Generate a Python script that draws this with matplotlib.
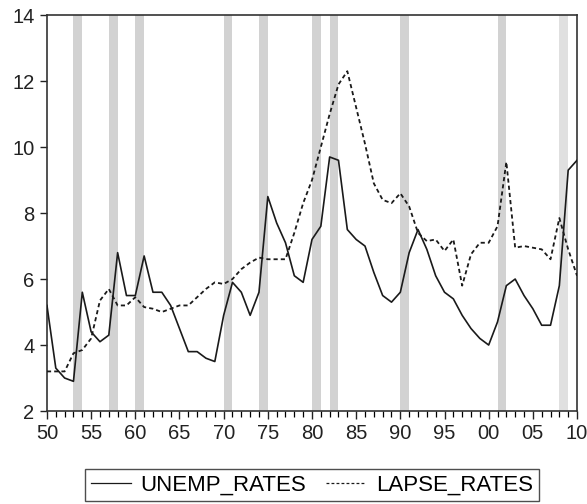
import numpy as np
import matplotlib
matplotlib.use('Agg')
import matplotlib.pyplot as plt
from matplotlib.ticker import MultipleLocator, FuncFormatter

plt.rcParams['font.family'] = ['Liberation Sans', 'DejaVu Sans']

years = np.arange(1950, 2011)

unemp_rates = [5.2, 3.3, 3.0, 2.9, 5.6, 4.4, 4.1, 4.3, 6.8, 5.5,
               5.5, 6.7, 5.6, 5.6, 5.2, 4.5, 3.8, 3.8, 3.6, 3.5,
               4.9, 5.9, 5.6, 4.9, 5.6, 8.5, 7.7, 7.1, 6.1, 5.9,
               7.2, 7.6, 9.7, 9.6, 7.5, 7.2, 7.0, 6.2, 5.5, 5.3,
               5.6, 6.8, 7.5, 6.9, 6.1, 5.6, 5.4, 4.9, 4.5, 4.2,
               4.0, 4.7, 5.8, 6.0, 5.5, 5.1, 4.6, 4.6, 5.8, 9.3, 9.6]

lapse_rates = [3.2, 3.2, 3.2, 3.75, 3.85, 4.2, 5.35, 5.7, 5.2, 5.2,
               5.45, 5.15, 5.1, 5.0, 5.1, 5.2, 5.2, 5.45, 5.7, 5.9,
               5.85, 6.0, 6.3, 6.5, 6.65, 6.6, 6.6, 6.6, 7.4, 8.3,
               9.0, 10.0, 11.0, 11.9, 12.3, 11.2, 10.1, 8.9, 8.4, 8.3,
               8.6, 8.2, 7.4, 7.15, 7.2, 6.85, 7.2, 5.8, 6.75, 7.1,
               7.1, 7.6, 9.55, 6.95, 7.0, 6.95, 6.9, 6.6, 7.85, 6.9, 6.1]

# recession years (shaded one year wide)
recessions = [1953, 1957, 1960, 1970, 1974, 1980, 1982, 1990, 2001, 2008]

fig = plt.figure(figsize=(5.87, 5.04), dpi=100)
ax = fig.add_axes([0.080, 0.1845, 0.903, 0.7855])

for r in recessions:
    col = '#e0e0e0' if r == 2008 else '#d2d2d2'
    ax.axvspan(r, r + 1, color=col, lw=0, zorder=0)

ax.plot(years, unemp_rates, color='#1a1a1a', lw=1.2, label='UNEMP_RATES', zorder=3)
ax.plot(years, lapse_rates, color='#1a1a1a', lw=1.3, dashes=(2.3, 1.7),
        label='LAPSE_RATES', zorder=3)

ax.set_xlim(1950, 2010)
ax.set_ylim(2, 14)
ax.yaxis.set_major_locator(MultipleLocator(2))
ax.xaxis.set_major_locator(MultipleLocator(5))
ax.xaxis.set_minor_locator(MultipleLocator(1))
ax.xaxis.set_major_formatter(FuncFormatter(lambda v, p: '%02d' % (int(round(v)) % 100)))

ax.tick_params(axis='both', labelsize=14.5, colors='#222222', width=1.0)
ax.tick_params(axis='x', which='major', length=6, pad=3)
ax.tick_params(axis='x', which='minor', length=4, width=0.9)
ax.tick_params(axis='y', length=5, pad=4)

for s in ax.spines.values():
    s.set_color('#333333')
    s.set_linewidth(1.2)

leg = fig.legend(loc='center', bbox_to_anchor=(0.5315, 0.037), ncol=2,
                 fontsize=16, frameon=True, fancybox=False,
                 handlelength=1.8, handletextpad=0.45, columnspacing=0.9,
                 borderpad=0.25, borderaxespad=0)
leg.get_frame().set_edgecolor('#222222')
leg.get_frame().set_linewidth(1.0)
for line in leg.get_lines():
    line.set_linewidth(0.9)

fig.savefig('out.png', dpi=100)
